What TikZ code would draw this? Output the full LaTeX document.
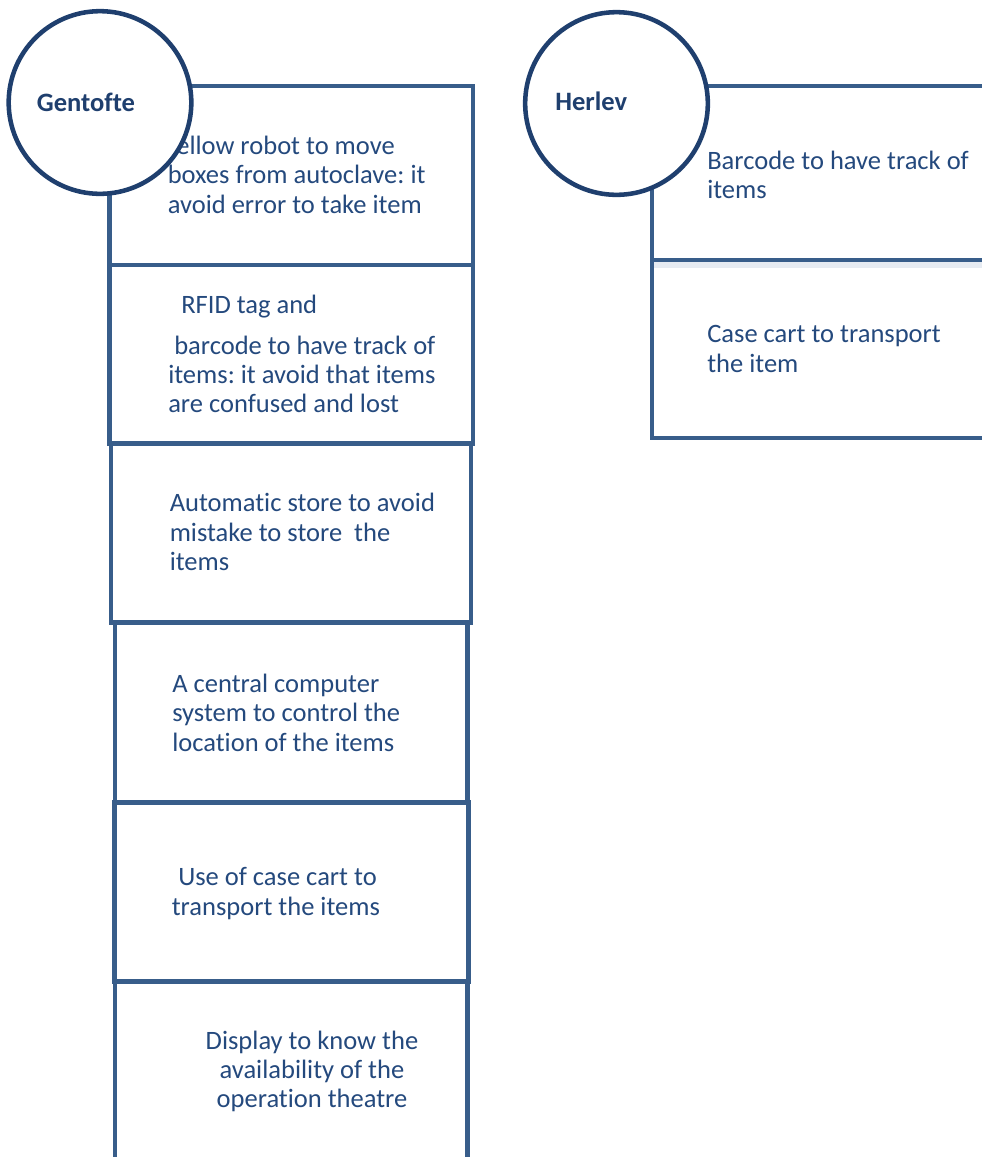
\documentclass[tikz,border=0pt]{standalone}
\usepackage{fontspec}
\setmainfont{Carlito}[Ligatures=NoCommon]
\frenchspacing
\definecolor{boxline}{HTML}{385D8A}
\definecolor{ringline}{HTML}{1F3F6E}
\definecolor{bodytext}{HTML}{24497D}
\definecolor{shadeband}{HTML}{E6EBF2}
\tikzset{
  cell/.style={draw=boxline, line width=3.4pt},
  ring/.style={circle, draw=ringline, line width=3.4pt, fill=white, minimum size=137pt, inner sep=0pt},
  entry/.style={anchor=base west, inner sep=0pt, text=bodytext, font=\fontsize{19.9}{22.1}\selectfont},
  centry/.style={anchor=base, inner sep=0pt, text=bodytext, font=\fontsize{19.9}{22.1}\selectfont},
  site/.style={anchor=base west, inner sep=0pt, text=ringline, font=\bfseries\fontsize{19.9}{22.1}\selectfont}
}
\begin{document}
\begin{tikzpicture}[x=0.75pt,y=-0.75pt]
\useasboundingbox (0,0) rectangle (982,1157);
\clip (0,0) rectangle (982,1157);

% Gentofte column of boxes
\draw[cell] (109.5,86) rectangle (473,265);
\draw[cell] (109.5,265) rectangle (473,443.5);
\draw[cell] (111,443.5) rectangle (471,622.5);
\draw[cell] (115,622.5) rectangle (467.5,802.5);
\draw[cell] (114.3,802.5) rectangle (468.3,981.5);
\draw[cell] (115,1190) -- (115,981.5) -- (467.3,981.5) -- (467.3,1190);

% Herlev column of boxes
\fill[shadeband] (654,262) rectangle (990,268);
\draw[cell] (652,86) rectangle (1000,260);
\draw[cell] (652,260) rectangle (1000,438);

% Gentofte texts
\node[entry] (g1a) at (165,154) {Yellow robot to move};
\node[entry] (g1b) at (167.5,183.5) {boxes from autoclave: it};
\node[entry] (g1c) at (167.5,213) {avoid error to take item};

\node[entry] (g2a) at (181,313) {RFID tag and};
\node[entry] (g2b) at (174,354) {barcode to have track of};
\node[entry] (g2c) at (168,383.5) {items: it avoid that items};
\node[entry] (g2d) at (168,412.5) {are confused and lost};

\node[entry] (g3a) at (169.5,511.7) {Automatic store to avoid};
\node[entry] (g3b) at (169.5,541.2) {mistake to store\ \ the};
\node[entry] (g3c) at (169.5,570.7) {items};

\node[entry] (g4a) at (172,692) {A central computer};
\node[entry] (g4b) at (172,721.5) {system to control the};
\node[entry] (g4c) at (172,751) {location of the items};

\node[entry] (g5a) at (178,885.5) {Use of case cart to};
\node[entry] (g5b) at (171.5,915) {transport the items};

\node[centry] (g6a) at (312,1049.5) {Display to know the};
\node[centry] (g6b) at (312,1078.5) {availability of the};
\node[centry] (g6c) at (312,1107.5) {operation theatre};

% Herlev texts
\node[entry] (h1a) at (707,169.5) {Barcode to have track of};
\node[entry] (h1b) at (707,198) {items};
\node[entry] (h2a) at (707,342.7) {Case cart to transport};
\node[entry] (h2b) at (707,372) {the item};

% Site circles and names
\node[ring] (gentofte) at (100,102.5) {};
\node[site] (gname) at (36.7,111) {Gentofte};
\node[ring] (herlev) at (616.5,103.5) {};
\node[site] (hname) at (555,110.7) {Herlev};
\end{tikzpicture}
\end{document}
